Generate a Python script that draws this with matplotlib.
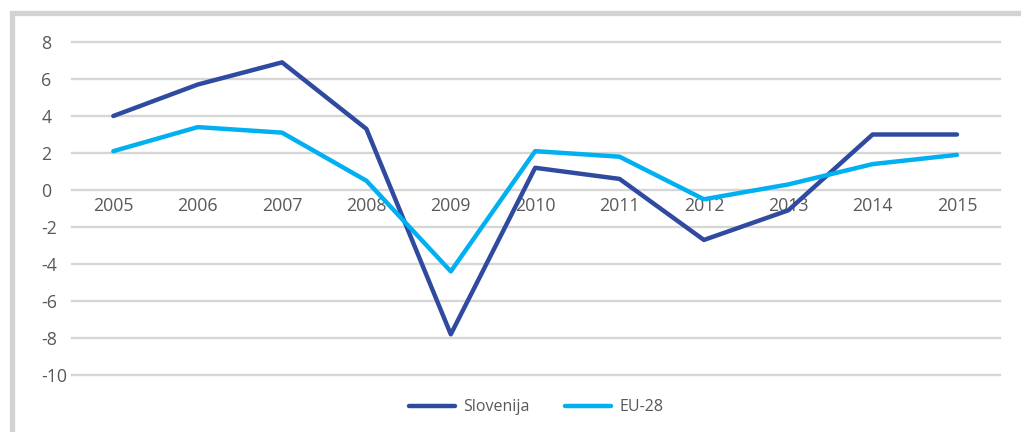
import matplotlib.pyplot as plt
from matplotlib.patches import Rectangle

years = ["2005", "2006", "2007", "2008", "2009", "2010", "2011", "2012", "2013", "2014", "2015"]
slovenija = [4.0, 5.7, 6.9, 3.3, -7.8, 1.2, 0.6, -2.7, -1.1, 3.0, 3.0]
eu28 = [2.1, 3.4, 3.1, 0.5, -4.4, 2.1, 1.8, -0.5, 0.3, 1.4, 1.9]
yticks = [-10, -8, -6, -4, -2, 0, 2, 4, 6, 8]

plt.rcParams['font.family'] = ['Open Sans', 'DejaVu Sans']
text_col = "#595959"

fig = plt.figure(figsize=(10.21, 4.32), dpi=100)
# grey frame around the chart
fig.patches.append(Rectangle((11.5 / 1021, -0.1), 1.2, (432 - 12.5) / 432 + 0.1,
                             transform=fig.transFigure, fill=False,
                             edgecolor="#d3d3d5", linewidth=3.8))

ax = fig.add_axes([72 / 1021, 57 / 432, 928 / 1021, 333 / 432])
x = range(len(years))
ax.plot(x, slovenija, color="#2f4a9f", lw=3.2, label="Slovenija", solid_capstyle="round", zorder=3)
ax.plot(x, eu28, color="#00b0f0", lw=3.2, label="EU-28", solid_capstyle="round", zorder=3)

ax.set_xlim(-0.49, 10.51)
ax.set_ylim(-10, 8)
ax.set_yticks(yticks)
ax.set_yticklabels([str(v) for v in yticks])
ax.set_xticks(list(x))
ax.set_xticklabels(years)
ax.grid(axis="y", color="#d6d6d6", lw=1.7)
for g in ax.get_ygridlines():
    g.set_clip_on(False)
ax.set_axisbelow(True)
for s in ["top", "right", "left"]:
    ax.spines[s].set_visible(False)
ax.spines["bottom"].set_position(("data", 0))
ax.spines["bottom"].set_visible(False)
ax.tick_params(axis="both", length=0, colors=text_col, labelsize=12.8)
ax.tick_params(axis="y", pad=22)
ax.tick_params(axis="x", pad=5)
for lbl in ax.get_yticklabels():
    lbl.set_horizontalalignment("left")

leg = ax.legend(loc="upper center", bbox_to_anchor=(0.5, -0.03), ncol=2, frameon=False,
                fontsize=11.5, handlelength=2.9, columnspacing=2.2, handletextpad=0.5)
for t in leg.get_texts():
    t.set_color(text_col)

fig.savefig("out.png", dpi=100)
